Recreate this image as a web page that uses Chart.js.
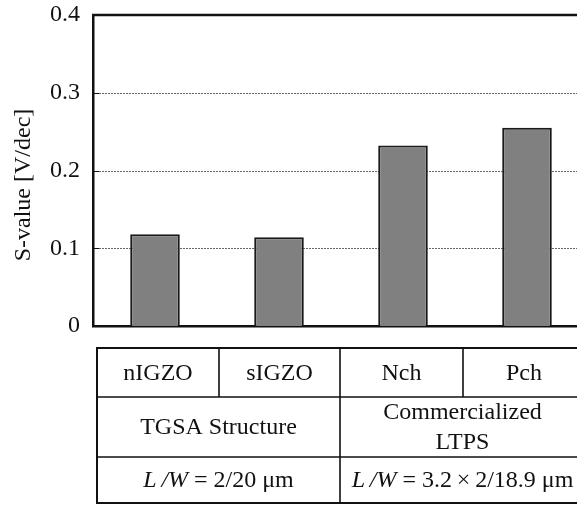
<!DOCTYPE html>
<html>
<head>
<meta charset="utf-8">
<script src="https://cdn.jsdelivr.net/npm/chart.js@4/dist/chart.umd.min.js"></script>
<style>
  html, body { margin: 0; padding: 0; background: #fff; overflow: hidden; }
  #wrap { position: absolute; left: 0; top: 0; width: 600px; height: 506px; }
</style>
</head>
<body>
<div id="wrap"><canvas id="chart"></canvas></div>
<script>
// Subthreshold swing of each device type
const categories = ['nIGZO', 'sIGZO', 'Nch', 'Pch'];
const sValues = [0.118, 0.114, 0.232, 0.255];
const yTicks = [0, 0.1, 0.2, 0.3, 0.4];
const yTickLabels = ['0', '0.1', '0.2', '0.3', '0.4'];
const yTitle = 'S-value [V/dec]';

// Grouping rows shown in the table under the bars
const structureGroups = [['TGSA Structure'], ['Commercialized', 'LTPS']];
const sizeItalic = ['L\u2009/W', 'L\u2009/W'];
const sizeRest = [' = 2/20 \u03bcm', ' = 3.2\u2009\u00d7\u20092/18.9 \u03bcm'];

const FONT = '"Liberation Serif", "DejaVu Serif", serif';
const FS = 24;

// Dotted gridlines, inward ticks, top frame, axis title and the device table
const framePlugin = {
  id: 'frame',
  beforeDatasetsDraw(chart) {
    const { ctx, chartArea: a, scales: { y } } = chart;
    ctx.save();
    yTicks.forEach(v => {
      const py = Math.round(y.getPixelForValue(v)) + 0.5;
      if (v > 0 && v < 0.4) {
        ctx.strokeStyle = '#666';
        ctx.lineWidth = 1;
        ctx.setLineDash([2, 1]);
        ctx.beginPath(); ctx.moveTo(a.left, py); ctx.lineTo(a.right, py); ctx.stroke();
        ctx.setLineDash([]);
        ctx.strokeStyle = '#111';
        ctx.beginPath(); ctx.moveTo(a.left, py); ctx.lineTo(a.left + 6, py); ctx.stroke();
      }
    });
    ctx.restore();
  },
  afterDraw(chart) {
    const { ctx, chartArea: a } = chart;
    ctx.save();
    ctx.strokeStyle = '#111';
    ctx.lineWidth = 2.5;
    ctx.beginPath();
    ctx.moveTo(a.left - 1, a.top); ctx.lineTo(a.right, a.top); ctx.lineTo(a.right, a.bottom);
    ctx.stroke();

    // rotated y-axis title
    ctx.save();
    ctx.translate(24, 185);
    ctx.rotate(-Math.PI / 2);
    ctx.fillStyle = '#111';
    ctx.font = FS + 'px ' + FONT;
    ctx.textAlign = 'center';
    ctx.textBaseline = 'middle';
    ctx.fillText(yTitle, 0, 0);
    ctx.restore();

    // table below the plot
    const tl = 97, tr = 585;
    const rows = [348, 397, 457, 503];
    const cols = [97, 219, 340, 463, 585];
    ctx.lineWidth = 2;
    ctx.strokeRect(tl, rows[0], tr - tl, rows[3] - rows[0]);
    ctx.lineWidth = 1.6;
    ctx.beginPath();
    [rows[1], rows[2]].forEach(r => { ctx.moveTo(tl, r); ctx.lineTo(tr, r); });
    [cols[1], cols[3]].forEach(c => { ctx.moveTo(c, rows[0]); ctx.lineTo(c, rows[1]); });
    ctx.moveTo(cols[2], rows[0]); ctx.lineTo(cols[2], rows[3]);
    ctx.stroke();

    ctx.fillStyle = '#111';
    ctx.textAlign = 'center';
    ctx.textBaseline = 'middle';
    ctx.font = FS + 'px ' + FONT;
    categories.forEach((c, i) => {
      ctx.fillText(c, (cols[i] + cols[i + 1]) / 2, (rows[0] + rows[1]) / 2 + 1);
    });
    structureGroups.forEach((lines, g) => {
      const cx = (cols[g * 2] + cols[g * 2 + 2]) / 2;
      const cy = (rows[1] + rows[2]) / 2;
      const lh = 30;
      lines.forEach((t, k) => {
        ctx.fillText(t, cx, cy + (k - (lines.length - 1) / 2) * lh + 1);
      });
    });
    sizeItalic.forEach((it, g) => {
      const cx = (cols[g * 2] + cols[g * 2 + 2]) / 2;
      const cy = (rows[2] + rows[3]) / 2 + 1;
      ctx.font = 'italic ' + FS + 'px ' + FONT;
      const w1 = ctx.measureText(it).width;
      ctx.font = FS + 'px ' + FONT;
      const w2 = ctx.measureText(sizeRest[g]).width;
      const x0 = cx - (w1 + w2) / 2;
      ctx.textAlign = 'left';
      ctx.font = 'italic ' + FS + 'px ' + FONT;
      ctx.fillText(it, x0, cy);
      ctx.font = FS + 'px ' + FONT;
      ctx.fillText(sizeRest[g], x0 + w1, cy);
      ctx.textAlign = 'center';
    });
    ctx.restore();
  }
};

new Chart(document.getElementById('chart'), {
  type: 'bar',
  data: {
    labels: categories,
    datasets: [{
      data: sValues,
      backgroundColor: '#808080',
      borderColor: '#1a1a1a',
      borderWidth: 2,
      borderSkipped: 'bottom',
      categoryPercentage: 1,
      barPercentage: 0.4
    }]
  },
  options: {
    responsive: true,
    maintainAspectRatio: false,
    animation: false,
    events: [],
    layout: { padding: { left: 0, top: 15, right: 11, bottom: 180 } },
    plugins: { legend: { display: false }, tooltip: { enabled: false } },
    scales: {
      x: {
        grid: { display: false, drawTicks: false },
        ticks: { display: false },
        border: { color: '#111', width: 2.5 }
      },
      y: {
        min: 0,
        max: 0.4,
        afterBuildTicks(scale) { scale.ticks = yTicks.map(v => ({ value: v })); },
        afterFit(scale) {
          scale.width = 93;
          scale.paddingTop = 0;
          scale.paddingBottom = 0;
        },
        grid: { display: false, drawTicks: false },
        border: { color: '#111', width: 2.5 },
        ticks: {
          padding: 13,
          color: '#111',
          font: { family: FONT, size: FS },
          callback: (v, i) => yTickLabels[i]
        }
      }
    }
  },
  plugins: [framePlugin]
});
</script>
</body>
</html>
